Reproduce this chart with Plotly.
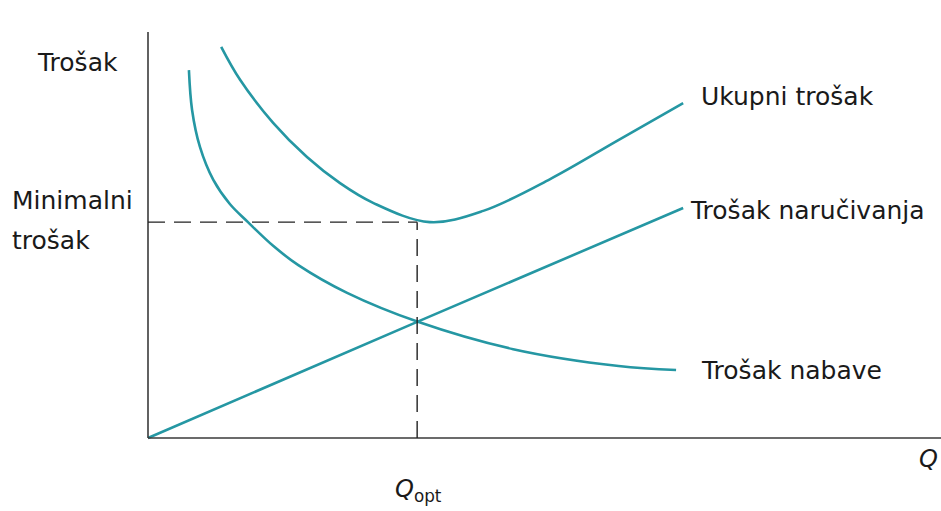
import plotly.graph_objects as go

# values (Q on x, cost on y)
q_nabava = [0.52, 0.56, 0.66, 0.83, 1.04, 1.27, 1.59, 1.91, 2.53, 3.43, 4.64, 5.98, 6.71]
c_nabava = [9.15, 8.16, 7.24, 6.42, 5.82, 5.37, 4.78, 4.30, 3.61, 2.89, 2.21, 1.79, 1.69]

q_narucivanje = [0.0, 3.42, 6.80]
c_narucivanje = [0.0, 2.89, 5.72]

q_ukupno = [0.93, 1.17, 1.59, 2.02, 2.44, 2.86, 3.58, 4.26, 5.11, 5.96, 6.80]
c_ukupno = [9.73, 8.91, 7.84, 6.99, 6.34, 5.85, 5.37, 5.65, 6.44, 7.39, 8.33]

q_opt = 3.42
c_min = 5.37

W, H = 941, 511
X0, Y0 = 148, 438      # origin in pixels
SX, SY = 78.7, 40.2    # pixels per unit

teal = "#2597a3"
font = "DejaVu Sans"

fig = go.Figure()
for q, c in [(q_nabava, c_nabava), (q_narucivanje, c_narucivanje), (q_ukupno, c_ukupno)]:
    fig.add_trace(go.Scatter(x=q, y=c, mode="lines", showlegend=False, hoverinfo="skip",
                             line=dict(color=teal, width=2.6, shape="spline", smoothing=1.0)))

# axes
fig.add_shape(type="line", x0=0, y0=0, x1=0, y1=(Y0 - 32) / SY, line=dict(color="#3a3a3a", width=1.6))
fig.add_shape(type="line", x0=0, y0=0, x1=(W - X0) / SX, y1=0, line=dict(color="#3a3a3a", width=1.6))
# dashed guides
fig.add_shape(type="line", x0=0, y0=c_min, x1=q_opt, y1=c_min, line=dict(color="#222", width=1.4, dash="17px,9px"))
fig.add_shape(type="line", x0=q_opt, y0=0, x1=q_opt, y1=c_min, line=dict(color="#222", width=1.4, dash="17px,9px"))


def label(text, px, py, xanchor="left", size=25):
    fig.add_annotation(text=text, xref="paper", yref="paper", x=px / W, y=1 - py / H,
                       xanchor=xanchor, yanchor="middle", showarrow=False,
                       font=dict(family=font, size=size, color="#1a1a1a"))


label("Trošak", 35, 62)
label("Minimalni", 10, 201)
label("trošak", 10, 240)
label("Ukupni trošak", 699, 97)
label("Trošak naručivanja", 688, 210)
label("Trošak nabave", 699, 370)
label("<i>Q</i>", 928, 459, xanchor="center", size=24)
label("<i>Q</i><sub>opt</sub>", 418, 490, xanchor="center", size=24)

fig.update_layout(
    width=W, height=H,
    margin=dict(l=0, r=0, t=0, b=0),
    paper_bgcolor="white", plot_bgcolor="white",
    xaxis=dict(range=[-X0 / SX, (W - X0) / SX], visible=False, fixedrange=True),
    yaxis=dict(range=[-(H - Y0) / SY, Y0 / SY], visible=False, fixedrange=True),
)

fig.write_html("out.html", config={"displayModeBar": False},
               post_script="document.body.style.margin='0';document.body.style.overflow='hidden';")
